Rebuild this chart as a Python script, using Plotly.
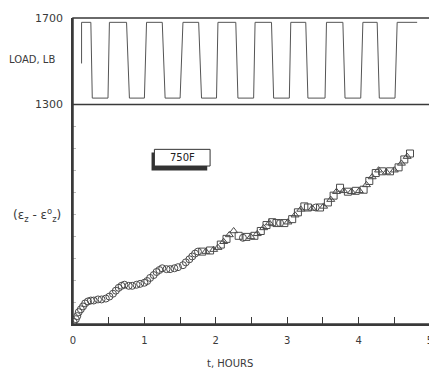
import plotly.graph_objects as go

# ---- data ----
load_t = [0.12, 0.12, 0.25, 0.27, 0.49, 0.51, 0.75, 0.79, 1.00, 1.03, 1.25, 1.29, 1.50, 1.54,
          1.76, 1.80, 2.01, 2.03, 2.28, 2.31, 2.53, 2.55, 2.78, 2.81, 3.03, 3.05, 3.26, 3.29,
          3.53, 3.55, 3.78, 3.81, 4.03, 4.06, 4.26, 4.29, 4.51, 4.54, 4.82]
load_lb = [1490, 1680, 1680, 1330, 1330, 1680, 1680, 1330, 1330, 1680, 1680, 1330, 1330, 1680,
           1680, 1330, 1330, 1680, 1680, 1330, 1330, 1680, 1680, 1330, 1330, 1680, 1680, 1330,
           1330, 1680, 1680, 1330, 1330, 1680, 1680, 1330, 1330, 1680, 1680]

circ_t = [0.01, 0.04, 0.06, 0.08, 0.11, 0.14, 0.17, 0.21, 0.25, 0.29, 0.35, 0.40, 0.46, 0.51,
          0.56, 0.60, 0.64, 0.68, 0.72, 0.78, 0.83, 0.89, 0.94, 1.00, 1.04, 1.08, 1.13, 1.17,
          1.21, 1.25, 1.31, 1.36, 1.42, 1.47, 1.54, 1.58, 1.63, 1.67, 1.71, 1.75, 2.38, 2.90, 3.40]
circ_s = [0.9, 2.2, 3.6, 5.4, 6.7, 8.0, 9.4, 10.3, 10.7, 10.7, 11.2, 11.2, 11.6, 12.5,
          13.8, 15.2, 16.5, 17.4, 17.9, 17.4, 17.4, 17.9, 18.3, 18.8, 19.6, 21.0, 22.3, 23.7,
          24.6, 25.4, 25.0, 25.0, 25.4, 25.9, 26.8, 28.1, 29.5, 30.8, 32.1, 33.0, 39.3, 46.0, 53.1]

sq_t = [1.81, 1.92, 2.07, 2.15, 2.32, 2.43, 2.54, 2.63, 2.71, 2.79, 2.85, 2.96, 3.07, 3.15,
        3.24, 3.29, 3.46, 3.57, 3.65, 3.74, 3.85, 3.96, 4.07, 4.15, 4.24, 4.33, 4.44, 4.56,
        4.64, 4.72]
sq_s = [33.0, 33.5, 36.2, 38.8, 40.2, 39.7, 40.2, 42.4, 45.1, 46.4, 46.0, 46.0, 47.8, 50.9,
        53.6, 53.1, 53.1, 55.4, 58.5, 62.1, 60.3, 60.7, 61.2, 65.2, 68.8, 69.6, 69.6, 71.4,
        75.0, 77.7]

tri_t = [1.86, 1.97, 2.03, 2.11, 2.19, 2.25, 2.49, 2.58, 2.67, 2.75, 3.01, 3.11, 3.19, 3.35,
         3.51, 3.61, 3.69, 3.79, 3.90, 4.01, 4.11, 4.19, 4.28, 4.39, 4.50, 4.60, 4.68]
tri_s = [33.0, 33.9, 34.8, 37.5, 40.6, 42.4, 39.7, 41.1, 43.8, 46.0, 46.4, 49.6, 52.2, 52.7,
         53.6, 56.7, 60.3, 60.7, 60.3, 60.7, 63.4, 67.0, 70.1, 69.2, 70.1, 73.2, 76.3]

x_ticks = [0, 1, 2, 3, 4, 5]
load_ticks = [1300, 1700]

# ---- figure ----
INK = "#3a3a3a"
FONT = "DejaVu Sans"

fig = go.Figure()
fig.add_trace(go.Scatter(x=load_t, y=load_lb, mode="lines", yaxis="y2",
                         line=dict(color="#555555", width=1), showlegend=False))
mk = dict(size=7, color="#4a4a4a", line=dict(color="#4a4a4a", width=1))
fig.add_trace(go.Scatter(x=circ_t, y=circ_s, mode="markers", showlegend=False,
                         marker=dict(symbol="circle-open", **mk)))
fig.add_trace(go.Scatter(x=sq_t, y=sq_s, mode="markers", showlegend=False,
                         marker=dict(symbol="square-open", **mk)))
fig.add_trace(go.Scatter(x=tri_t, y=tri_s, mode="markers", showlegend=False,
                         marker=dict(symbol="triangle-up-open", **mk)))

split = 0.717
# page body has an 8px margin, so the figure is sized/offset to compensate
fig.update_layout(
    width=429, height=366,
    margin=dict(l=65, r=4, t=5, b=50),
    paper_bgcolor="white", plot_bgcolor="white",
    font=dict(family=FONT, size=11, color=INK),
    xaxis=dict(range=[0, 5], tickvals=x_ticks, ticktext=[str(v) for v in x_ticks],
               ticks="inside", ticklen=7, tickcolor=INK, tickwidth=1,
               minor=dict(dtick=0.5, ticks="inside", ticklen=7, tickcolor=INK),
               showline=True, linecolor=INK, linewidth=1.5, showgrid=False, zeroline=False,
               ticklabelstandoff=6, ticklabeloverflow="allow",
               tickfont=dict(size=10, color=INK), fixedrange=True),
    yaxis=dict(domain=[0, split], range=[0, 100], showticklabels=False,
               ticks="inside", ticklen=3, dtick=10, tickcolor="#bbbbbb",
               showline=True, linecolor=INK, linewidth=1.5, showgrid=False, zeroline=False),
    yaxis2=dict(domain=[split, 1], range=[1300, 1700], tickvals=load_ticks,
                ticktext=[str(v) for v in load_ticks], ticks="", anchor="x",
                showline=True, linecolor=INK, linewidth=1.5, showgrid=False, zeroline=False,
                ticklabelstandoff=6, ticklabeloverflow="allow",
                tickfont=dict(size=11, color=INK)),
)

# frame lines
fig.add_shape(type="rect", xref="paper", yref="paper", x0=0, x1=1, y0=0, y1=1,
              line=dict(color=INK, width=1.5))
fig.add_shape(type="line", xref="paper", yref="paper", x0=0, x1=1, y0=split, y1=split,
              line=dict(color=INK, width=1.5))

# 750F label box with shadow
fig.add_shape(type="rect", xref="x", yref="y", x0=1.10, x1=1.88, y0=70.0, y1=78.2,
              line=dict(width=0), fillcolor="#333333")
fig.add_shape(type="rect", xref="x", yref="y", x0=1.14, x1=1.92, y0=72.0, y1=79.6,
              line=dict(color="#333333", width=1), fillcolor="white")
fig.add_annotation(x=1.53, y=75.8, xref="x", yref="y", text="750F", showarrow=False,
                   xanchor="center", yanchor="middle", font=dict(size=10, color="#222222"))

# labels
fig.add_annotation(x=-0.044, y=(324 - 55) / 311, xref="paper", yref="paper", text="LOAD, LB",
                   showarrow=False, xanchor="right", yanchor="middle",
                   font=dict(size=10, color=INK))
fig.add_annotation(x=-0.028, y=(324 - 213) / 311, xref="paper", yref="paper",
                   text="(ε<sub>z</sub> - ε<sup>o</sup><sub>z</sub>)", xanchor="right",
                   yanchor="middle", showarrow=False, font=dict(size=12, color=INK))
fig.add_annotation(x=(231 - 73) / 360, y=-(364 - 324) / 311, xref="paper", yref="paper",
                   text="t, HOURS", showarrow=False, xanchor="center", yanchor="middle",
                   font=dict(size=10, color=INK))

fig.write_html("out.html")
